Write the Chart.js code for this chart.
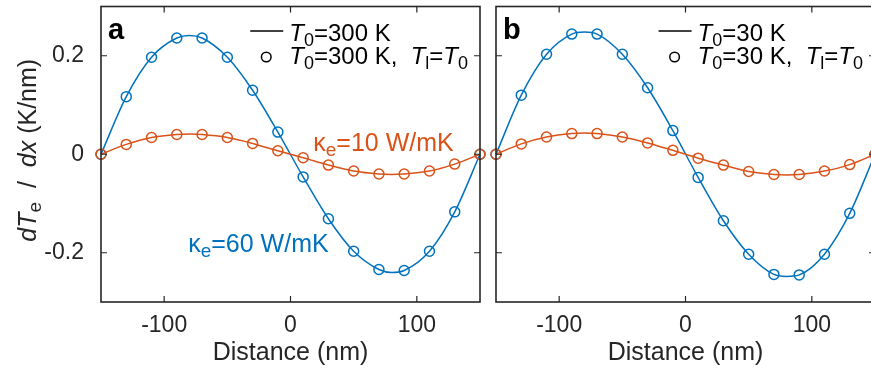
<!DOCTYPE html>
<html>
<head>
<meta charset="utf-8">
<script src="https://cdn.jsdelivr.net/npm/chart.js@4.4.0/dist/chart.umd.min.js"></script>
<style>
  html, body { margin: 0; padding: 0; background: #fff; overflow: hidden; width: 871px; height: 372px; }
  .panel { position: absolute; top: 0; }
  #boxA { left: 0; width: 490px; height: 372px; }
  #boxB { left: 484px; width: 402px; height: 372px; }
</style>
</head>
<body>
<div class="panel" id="boxA"><canvas id="chartA" width="490" height="372"></canvas></div>
<div class="panel" id="boxB"><canvas id="chartB" width="402" height="372"></canvas></div>
<script>
// circles (T_l = T_0 runs), sampled every 20 nm
const distance = [-150, -130, -110, -90, -70, -50, -30, -10, 10, 30, 50, 70, 90, 110, 130, 150];
const blueA   = [0, 0.117, 0.197, 0.236, 0.236, 0.197, 0.130, 0.045, -0.046, -0.131, -0.197, -0.234, -0.236, -0.197, -0.117, 0];
const orangeA = [0, 0.020, 0.034, 0.040, 0.040, 0.034, 0.022, 0.007, -0.007, -0.022, -0.034, -0.040, -0.040, -0.034, -0.020, 0];
const blueB   = [0, 0.120, 0.203, 0.244, 0.244, 0.203, 0.135, 0.048, -0.047, -0.135, -0.203, -0.244, -0.245, -0.203, -0.120, 0];
const orangeB = [0, 0.021, 0.035, 0.042, 0.042, 0.035, 0.023, 0.008, -0.008, -0.022, -0.035, -0.041, -0.041, -0.034, -0.021, 0];

// solid curves, read at the same spots plus the extrema
const lineDistance = [-150, -130, -110, -90, -80, -70, -50, -30, -10, 10, 30, 50, 70, 80, 90, 110, 130, 150];
const blueLineA   = [0, 0.117, 0.197, 0.236, 0.241, 0.236, 0.197, 0.130, 0.045, -0.046, -0.131, -0.197, -0.234, -0.240, -0.236, -0.197, -0.117, 0];
const orangeLineA = [0, 0.020, 0.034, 0.040, 0.041, 0.040, 0.034, 0.022, 0.007, -0.007, -0.022, -0.034, -0.040, -0.041, -0.040, -0.034, -0.020, 0];
const blueLineB   = [0, 0.120, 0.203, 0.244, 0.248, 0.244, 0.203, 0.135, 0.048, -0.047, -0.135, -0.203, -0.244, -0.248, -0.245, -0.203, -0.120, 0];
const orangeLineB = [0, 0.021, 0.035, 0.042, 0.043, 0.042, 0.035, 0.023, 0.008, -0.008, -0.022, -0.035, -0.041, -0.042, -0.041, -0.034, -0.021, 0];

const xTicks = [-100, 0, 100];
const xTickLabels = ['-100', '0', '100'];
const yTicks = [-0.2, 0, 0.2];
const yTickLabels = ['-0.2', '0', '0.2'];

const BLUE = '#0072BD';
const ORANGE = '#D95319';
const INK = '#262626';
const FAM = "'Liberation Sans', Arial, Helvetica, sans-serif";

const pts = (xs, ys) => xs.map((x, i) => ({ x: x, y: ys[i] }));

// text made of parts: [text, style], style may hold 'i' (italic) and 's' (subscript)
function fontOf(p, size) {
  return (p[1].includes('i') ? 'italic ' : '') +
    (p[1].includes('s') ? Math.round(size * 0.74) : size) + 'px ' + FAM;
}

function richWidth(ctx, parts, size) {
  let w = 0;
  parts.forEach(p => { ctx.font = fontOf(p, size); w += ctx.measureText(p[0]).width; });
  return w;
}

function drawRich(ctx, parts, x, y, size, color, align) {
  const w = richWidth(ctx, parts, size);
  let cx = align === 'center' ? x - w / 2 : align === 'right' ? x - w : x;
  ctx.fillStyle = color;
  ctx.textAlign = 'left';
  ctx.textBaseline = 'alphabetic';
  parts.forEach(p => {
    ctx.font = fontOf(p, size);
    ctx.fillText(p[0], cx, y + (p[1].includes('s') ? size * 0.2 : 0));
    cx += ctx.measureText(p[0]).width;
  });
  return w;
}

// box, inward ticks, titles, legend, notes
const decor = {
  id: 'decor',
  afterDraw(chart, args, opts) {
    const ctx = chart.ctx;
    const a = chart.chartArea;
    const xs = chart.scales.x, ys = chart.scales.y;
    ctx.save();
    ctx.strokeStyle = INK;
    ctx.lineWidth = 1.6;
    ctx.strokeRect(a.left, a.top, a.right - a.left, a.bottom - a.top);
    ctx.lineWidth = 1.2;
    ctx.beginPath();
    xTicks.forEach(v => {
      const px = xs.getPixelForValue(v);
      ctx.moveTo(px, a.bottom); ctx.lineTo(px, a.bottom - 6);
      ctx.moveTo(px, a.top); ctx.lineTo(px, a.top + 6);
    });
    yTicks.forEach(v => {
      const py = ys.getPixelForValue(v);
      ctx.moveTo(a.left, py); ctx.lineTo(a.left + 6, py);
      ctx.moveTo(a.right, py); ctx.lineTo(a.right - 6, py);
    });
    ctx.stroke();

    // x title
    drawRich(ctx, [['Distance (nm)', '']], (a.left + a.right) / 2, 360, 25, INK, 'center');

    // y title
    if (opts.yTitle) {
      ctx.save();
      ctx.translate(36, (a.top + a.bottom) / 2 - 4);
      ctx.rotate(-Math.PI / 2);
      drawRich(ctx, [['d', 'i'], ['T', 'i'], ['e', 's'], ['  /  ', ''], ['dx', 'i'], [' (K/nm)', '']], 0, 0, 25, INK, 'center');
      ctx.restore();
    }

    // panel letter
    ctx.font = 'bold 29px ' + FAM;
    ctx.fillStyle = '#000';
    ctx.textAlign = 'left';
    ctx.textBaseline = 'alphabetic';
    ctx.fillText(opts.letter, a.left + 7, 39);

    // legend
    const w = Math.max(...opts.legend.map(r => richWidth(ctx, r, 24)));
    const tx = a.right - 12 - w;
    drawRich(ctx, opts.legend[0], tx, 41, 24, '#000', 'left');
    drawRich(ctx, opts.legend[1], tx, 64, 24, '#000', 'left');
    ctx.strokeStyle = '#000';
    ctx.lineWidth = 1.5;
    ctx.beginPath();
    ctx.moveTo(tx - 39, 31); ctx.lineTo(tx - 6, 31);
    ctx.stroke();
    ctx.beginPath();
    ctx.arc(tx - 23, 57, 4.8, 0, Math.PI * 2);
    ctx.stroke();

    // curve notes, anchored in data units
    (opts.notes || []).forEach(n => {
      drawRich(ctx, n.parts, xs.getPixelForValue(n.x), ys.getPixelForValue(n.y), 25, n.color, 'left');
    });
    ctx.restore();
  }
};

function datasets(blue, orange, blueLine, orangeLine) {
  const circle = (data, color) => ({
    data: pts(distance, data), showLine: false, borderColor: color, backgroundColor: 'rgba(0,0,0,0)',
    pointRadius: 5, pointBorderWidth: 1.5, pointStyle: 'circle', clip: false
  });
  const curve = (data, color) => ({
    data: pts(lineDistance, data), borderColor: color, borderWidth: 1.5, pointRadius: 0,
    cubicInterpolationMode: 'monotone', fill: false, clip: false
  });
  return [circle(orange, ORANGE), curve(orangeLine, ORANGE), circle(blue, BLUE), curve(blueLine, BLUE)];
}

function makeChart(id, sets, yWidth, padRight, showY, opts) {
  new Chart(document.getElementById(id), {
    type: 'line',
    data: { datasets: sets },
    options: {
      responsive: false,
      animation: false,
      devicePixelRatio: 1,
      layout: { padding: { left: 0, right: padRight, top: 5, bottom: 0 } },
      plugins: { legend: { display: false }, tooltip: { enabled: false }, decor: opts },
      scales: {
        x: {
          type: 'linear', min: -150, max: 150,
          afterBuildTicks: s => { s.ticks = xTicks.map(v => ({ value: v })); },
          afterFit: s => { s.height = 70; s.paddingLeft = 0; s.paddingRight = 0; },
          grid: { display: false }, border: { display: false },
          ticks: {
            padding: 2, color: INK, font: { family: FAM, size: 23 },
            callback: v => xTickLabels[xTicks.indexOf(v)]
          }
        },
        y: {
          type: 'linear', min: -0.3, max: 0.3,
          afterBuildTicks: s => { s.ticks = yTicks.map(v => ({ value: v })); },
          afterFit: s => { s.width = yWidth; s.paddingTop = 0; s.paddingBottom = 0; },
          grid: { display: false }, border: { display: false },
          ticks: {
            display: showY, padding: 9, color: INK, font: { family: FAM, size: 23 },
            callback: v => yTickLabels[yTicks.findIndex(t => Math.abs(t - v) < 1e-9)]
          }
        }
      }
    },
    plugins: [decor]
  });
}

makeChart('chartA', datasets(blueA, orangeA, blueLineA, orangeLineA), 101, 10, true, {
  letter: 'a', yTitle: true,
  legend: [
    [['T', 'i'], ['0', 's'], ['=300 K', '']],
    [['T', 'i'], ['0', 's'], ['=300 K,  ', ''], ['T', 'i'], ['l', 's'], ['=', ''], ['T', 'i'], ['0', 's']]
  ],
  notes: [
    { parts: [['κ', ''], ['e', 's'], ['=10 W/mK', '']], x: 18, y: 0.007, color: ORANGE },
    { parts: [['κ', ''], ['e', 's'], ['=60 W/mK', '']], x: -81, y: -0.199, color: BLUE }
  ]
});

makeChart('chartB', datasets(blueB, orangeB, blueLineB, orangeLineB), 12, 11, false, {
  letter: 'b', yTitle: false,
  legend: [
    [['T', 'i'], ['0', 's'], ['=30 K', '']],
    [['T', 'i'], ['0', 's'], ['=30 K,  ', ''], ['T', 'i'], ['l', 's'], ['=', ''], ['T', 'i'], ['0', 's']]
  ],
  notes: []
});
</script>
</body>
</html>
